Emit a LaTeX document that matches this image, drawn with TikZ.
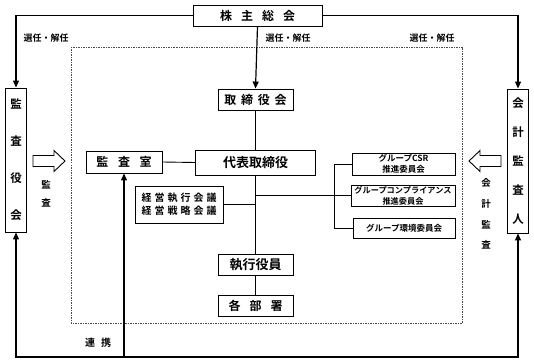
\documentclass[tikz,border=0pt]{standalone}
\usepackage{fontspec}
\setmainfont{Noto Sans CJK JP}[BoldFont={Noto Sans CJK JP Bold}]
\usepackage{tikz}
\usetikzlibrary{arrows.meta}

\begin{document}
\begin{tikzpicture}[
  x=1pt, y=-1pt,
  line width=0.9pt,
  >={Triangle[length=7pt,width=6pt]},
  box/.style={draw, fill=white, inner sep=0pt, align=center,
              font=\bfseries\fontsize{12}{14}\selectfont,
              minimum width=75pt, minimum height=21pt},
  small/.style={box, font=\bfseries\fontsize{8.5}{11}\selectfont,
                minimum width=103pt, minimum height=22pt},
  vbox/.style={box, minimum width=21pt, minimum height=144pt},
  tag/.style={inner sep=0pt, align=center, font=\bfseries\fontsize{9}{11}\selectfont},
  arr/.style={->, line width=1.2pt},
]
  \useasboundingbox[fill=white] (0,0) rectangle (534,363);

  \draw[black!70, line width=0.6pt, dash pattern=on 1.5pt off 1pt] (71,47) rectangle (462,323);

  \node[box, minimum width=129pt] (soukai) at (257.5,15.5) {株\hspace{0.75em}主\hspace{0.75em}総\hspace{0.75em}会};
  \node[vbox, font=\bfseries\fontsize{11.5}{37}\selectfont] (kansayaku) at (16,160) {監\\査\\役\\会};
  \node[vbox, font=\bfseries\fontsize{11.5}{29}\selectfont] (kaikei) at (518,161) {会\\計\\監\\査\\人};
  \node[box] (torishimari) at (255.5,99.5) {取\hspace{0.4em}締\hspace{0.4em}役\hspace{0.4em}会};
  \node[box, minimum width=120pt, minimum height=25pt,
        font=\bfseries\fontsize{13}{15}\selectfont] (daihyo) at (255.5,162.5) {代表取締役};
  \node[box, minimum width=76pt, minimum height=22pt] (kansashitsu) at (124,162) {監\hspace{0.8em}査\hspace{0.8em}室};
  \node[box, minimum width=88pt, minimum height=37pt,
        font=\bfseries\fontsize{10}{13}\selectfont] (keiei) at (179,204.5)
        {経\hspace{0.3em}営\hspace{0.3em}執\hspace{0.3em}行\hspace{0.3em}会\hspace{0.3em}議\\
         経\hspace{0.3em}営\hspace{0.3em}戦\hspace{0.3em}略\hspace{0.3em}会\hspace{0.3em}議};
  \node[small] (csr) at (403.5,164) {グループCSR\\推進委員会};
  \node[small, minimum width=104pt, minimum height=21pt,
        font=\bfseries\fontsize{8.2}{11}\selectfont] (comp) at (403,195.5) {グループコンプライアンス\\推進委員会};
  \node[small, minimum width=102pt, minimum height=20pt] (env) at (404,228.5) {グループ環境委員会};
  \node[box, font=\bfseries\fontsize{13}{15}\selectfont] (shikko) at (255.5,264.5) {執行役員};
  \node[box] (kakubu) at (255.5,305.5) {各\hspace{0.75em}部\hspace{0.75em}署};

  \node[tag] (sennin1) at (46,38) {選任・解任};
  \node[tag] (sennin2) at (288,38) {選任・解任};
  \node[tag] (sennin3) at (432,38) {選任・解任};
  \node[tag, font=\bfseries\fontsize{9.5}{18}\selectfont] (kansa) at (46,194) {監\\査};
  \node[tag, font=\bfseries\fontsize{9.5}{20.7}\selectfont] (kaikeikansa) at (486,214) {会\\計\\監\\査};
  \node[tag, font=\bfseries\fontsize{10}{12}\selectfont] (renkeitag) at (98,343) {連\hspace{0.6em}携};

  \draw (33,155.5) -- (54,155.5) -- (54,150.5) -- (65,161) -- (54,171.5) -- (54,166.5) -- (33,166.5) -- cycle;
  \draw (501,155.5) -- (480,155.5) -- (480,150.5) -- (469,161) -- (480,171.5) -- (480,166.5) -- (501,166.5) -- cycle;

  \coordinate (bus) at (334,0);
  \coordinate (renkei) at (124,357);

  \draw[arr] (soukai.west) -| (kansayaku.north);
  \draw[arr] (soukai.east) -| (kaikei.north);
  \draw[arr] (soukai.south) -- (torishimari.north);
  \draw (torishimari.south) -- (daihyo.north);
  \draw (daihyo.south) -- (shikko.north);
  \draw (shikko.south) -- (kakubu.north);
  \draw (kansashitsu.east) -- (daihyo.west);
  \draw (keiei.east) -- (keiei.east -| daihyo.south);
  \draw (comp.west) -- (comp.west -| daihyo.south);
  \draw (csr.west) -- (csr.west -| bus) -- (env.west -| bus) -- (env.west);
  \draw[arr] (renkei) -- (kansashitsu.south);
  \draw[<->, line width=1.2pt] (kansayaku.south) |- (renkei) -| (kaikei.south);
\end{tikzpicture}
\end{document}
